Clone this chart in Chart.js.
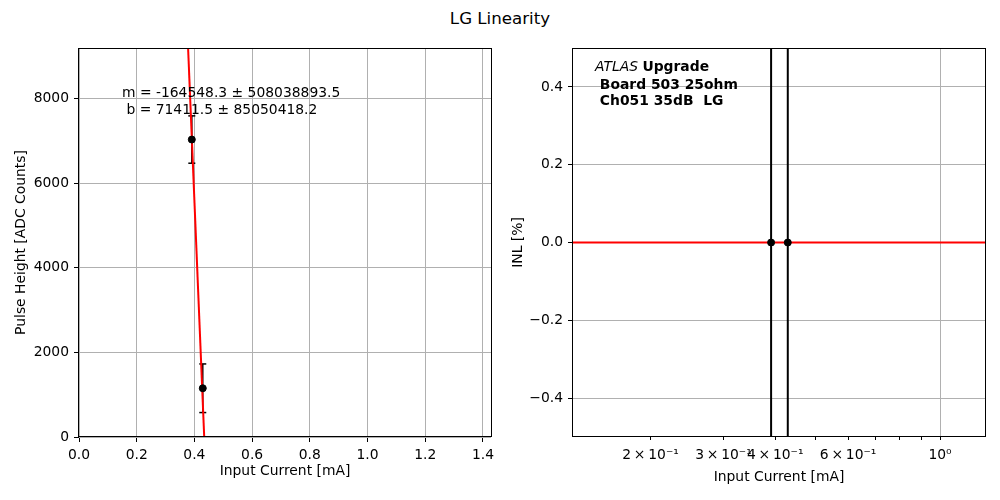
<!DOCTYPE html>
<html>
<head>
<meta charset="utf-8">
<script src="https://cdn.jsdelivr.net/npm/chart.js@4.4.0/dist/chart.umd.min.js"></script>
<style>
  body { margin: 0; background: #fff; }
  #wrap { position: relative; width: 1000px; height: 500px; }
  #suptitle { position: absolute; top: 9px; left: 0; width: 1000px; text-align: center;
    font: 16.67px 'DejaVu Sans', sans-serif; line-height: 20px; color: #000; }
  canvas { position: absolute; top: 0; }
</style>
</head>
<body>
<div id="wrap">
  <div id="suptitle">LG Linearity</div>
  <canvas id="pulseChart" width="500" height="500" style="left:0"></canvas>
  <canvas id="inlChart" width="500" height="500" style="left:500px"></canvas>
</div>
<script>
// measured points
const current = [0.391, 0.429];
const pulseHeight = [7035, 1153];
const pulseErr = [560, 575];

// linear fit drawn across the panel
const fitX = [0.37, 0.44];
const fitY = [10530, -990];
const fitText = ['m = -164548.3 \u00b1 508038893.5', ' b = 71411.5 \u00b1 85050418.2'];

// INL panel
const inl = [0, 0];
const inlErr = [20, 20];
const zeroX = [0.1, 1.5];
const zeroY = [0, 0];

// ticks
const xTicksL = [0, 0.2, 0.4, 0.6, 0.8, 1.0, 1.2, 1.4];
const yTicksL = [0, 2000, 4000, 6000, 8000];
const xTicksR = [0.2, 0.3, 0.4, 0.5, 0.6, 0.7, 0.8, 0.9, 1.0];
const xTickLabelsR = ['2\u2009\u00d7\u200910\u207b\u00b9', '3\u2009\u00d7\u200910\u207b\u00b9', '4\u2009\u00d7\u200910\u207b\u00b9', '',
  '6\u2009\u00d7\u200910\u207b\u00b9', '', '', '', '10\u2070'];
const yTicksR = [-0.4, -0.2, 0.0, 0.2, 0.4];

const FS = 13.89;
Chart.defaults.font.family = "'DejaVu Sans', sans-serif";
Chart.defaults.font.size = FS;
Chart.defaults.color = '#000';

const GRID = '#b0b0b0';

const frame = {
  id: 'frame',
  afterDatasetsDraw(chart) {
    const { ctx, chartArea: a } = chart;
    ctx.save();
    ctx.strokeStyle = '#000';
    ctx.lineWidth = 1;
    ctx.strokeRect(Math.round(a.left) - 0.5, Math.round(a.top) + 0.5,
      Math.round(a.right - a.left) + 1, Math.round(a.bottom - a.top) - 1);
    ctx.restore();
  }
};

function pts(xs, ys) {
  return xs.map((x, i) => ({ x, y: ys[i] }));
}

function errorBars(xs, ys, errs, capRadius, width) {
  return xs.map((x, i) => ({
    data: [{ x, y: ys[i] - errs[i] }, { x, y: ys[i] + errs[i] }],
    showLine: true,
    borderColor: '#000',
    borderWidth: width,
    pointStyle: 'line',
    pointRadius: capRadius,
    pointBorderColor: '#000',
    pointBorderWidth: 1.5,
    order: 2
  }));
}

function fixedTicks(values) {
  return (scale) => { scale.ticks = values.map(v => ({ value: v })); };
}

function xFit(scale) {
  scale.height = 63;
  scale.paddingLeft = 0;
  scale.paddingRight = 0;
}

// left panel: pulse height vs current
new Chart(document.getElementById('pulseChart'), {
  type: 'scatter',
  data: {
    datasets: [
      {
        data: pts(current, pulseHeight),
        pointRadius: 3.5,
        pointBackgroundColor: '#000',
        pointBorderColor: '#000',
        order: 0
      },
      {
        data: pts(fitX, fitY),
        showLine: true,
        borderColor: '#ff0000',
        borderWidth: 2,
        pointRadius: 0,
        order: 1
      },
      ...errorBars(current, pulseHeight, pulseErr, 3.5, 1.5)
    ]
  },
  options: {
    responsive: false,
    animation: false,
    events: [],
    layout: { padding: { left: 0, right: 9, top: 48, bottom: 0 } },
    plugins: { legend: { display: false }, tooltip: { enabled: false } },
    scales: {
      x: {
        type: 'linear', min: 0, max: 1.428,
        afterBuildTicks: fixedTicks(xTicksL),
        afterFit: xFit,
        grid: { color: GRID, tickColor: '#000', tickLength: 5 },
        border: { display: false },
        ticks: { padding: 5, maxRotation: 0, autoSkip: false, callback: v => v.toFixed(1) },
        title: { display: true, text: 'Input Current [mA]', padding: { top: 0, bottom: 20 } }
      },
      y: {
        type: 'linear', min: 0, max: 9200,
        afterBuildTicks: fixedTicks(yTicksL),
        afterFit: (s) => { s.width = 79; },
        grid: { color: GRID, tickColor: '#000', tickLength: 5 },
        border: { display: false },
        ticks: { padding: 5, autoSkip: false, callback: v => String(v) },
        title: { display: true, text: 'Pulse Height [ADC Counts]', padding: { top: 13, bottom: 0 } }
      }
    }
  },
  plugins: [frame, {
    id: 'fitText',
    afterDraw(chart) {
      const { ctx, chartArea: a } = chart;
      ctx.save();
      ctx.font = FS + "px 'DejaVu Sans', sans-serif";
      ctx.fillStyle = '#000';
      ctx.textBaseline = 'middle';
      ctx.textAlign = 'left';
      fitText.forEach((t, i) => ctx.fillText(t, a.left + 43, a.top + 45.5 + i * 17.3));
      ctx.restore();
    }
  }]
});

// right panel: INL vs current (log x)
new Chart(document.getElementById('inlChart'), {
  type: 'scatter',
  data: {
    datasets: [
      {
        data: pts(current, inl),
        pointRadius: 3.5,
        pointBackgroundColor: '#000',
        pointBorderColor: '#000',
        order: 0
      },
      ...errorBars(current, inl, inlErr, 0, 2).map(d => ({ ...d, order: 1 })),
      {
        data: pts(zeroX, zeroY),
        showLine: true,
        borderColor: '#ff0000',
        borderWidth: 2,
        pointRadius: 0,
        order: 2
      }
    ]
  },
  options: {
    responsive: false,
    animation: false,
    events: [],
    layout: { padding: { left: 0, right: 15, top: 48, bottom: 0 } },
    plugins: { legend: { display: false }, tooltip: { enabled: false } },
    scales: {
      x: {
        type: 'logarithmic', min: 0.130, max: 1.284,
        afterBuildTicks: fixedTicks(xTicksR),
        afterFit: xFit,
        grid: {
          color: (c) => (c.tick && c.tick.value === 1 ? GRID : 'rgba(0,0,0,0)'),
          tickColor: '#000', tickLength: 3
        },
        border: { display: false },
        ticks: {
          padding: 7, maxRotation: 0, minRotation: 0, autoSkip: false,
          callback: (v, i) => xTickLabelsR[i]
        },
        title: { display: true, text: 'Input Current [mA]', padding: { top: 0, bottom: 14 } }
      },
      y: {
        type: 'linear', min: -0.5, max: 0.5,
        afterBuildTicks: fixedTicks(yTicksR),
        afterFit: (s) => { s.width = 73; },
        grid: { color: GRID, tickColor: '#000', tickLength: 5 },
        border: { display: false },
        ticks: { padding: 5, autoSkip: false, callback: v => v.toFixed(1).replace('-', '\u2212') },
        title: { display: true, text: 'INL [%]', padding: { top: 10, bottom: 0 } }
      }
    }
  },
  plugins: [frame, {
    id: 'atlasText',
    afterDraw(chart) {
      const { ctx, chartArea: a } = chart;
      const x = a.left + 22;
      ctx.save();
      ctx.fillStyle = '#000';
      ctx.textBaseline = 'middle';
      ctx.textAlign = 'left';
      ctx.font = "italic " + FS + "px 'DejaVu Sans', sans-serif";
      ctx.fillText('ATLAS', x, a.top + 19.5);
      const w = ctx.measureText('ATLAS ').width;
      ctx.font = "bold " + FS + "px 'DejaVu Sans', sans-serif";
      ctx.fillText('Upgrade', x + w, a.top + 19.5);
      ctx.fillText(' Board 503 25ohm', x, a.top + 37);
      ctx.fillText(' Ch051 35dB  LG', x, a.top + 53.5);
      ctx.restore();
    }
  }]
});
</script>
</body>
</html>
